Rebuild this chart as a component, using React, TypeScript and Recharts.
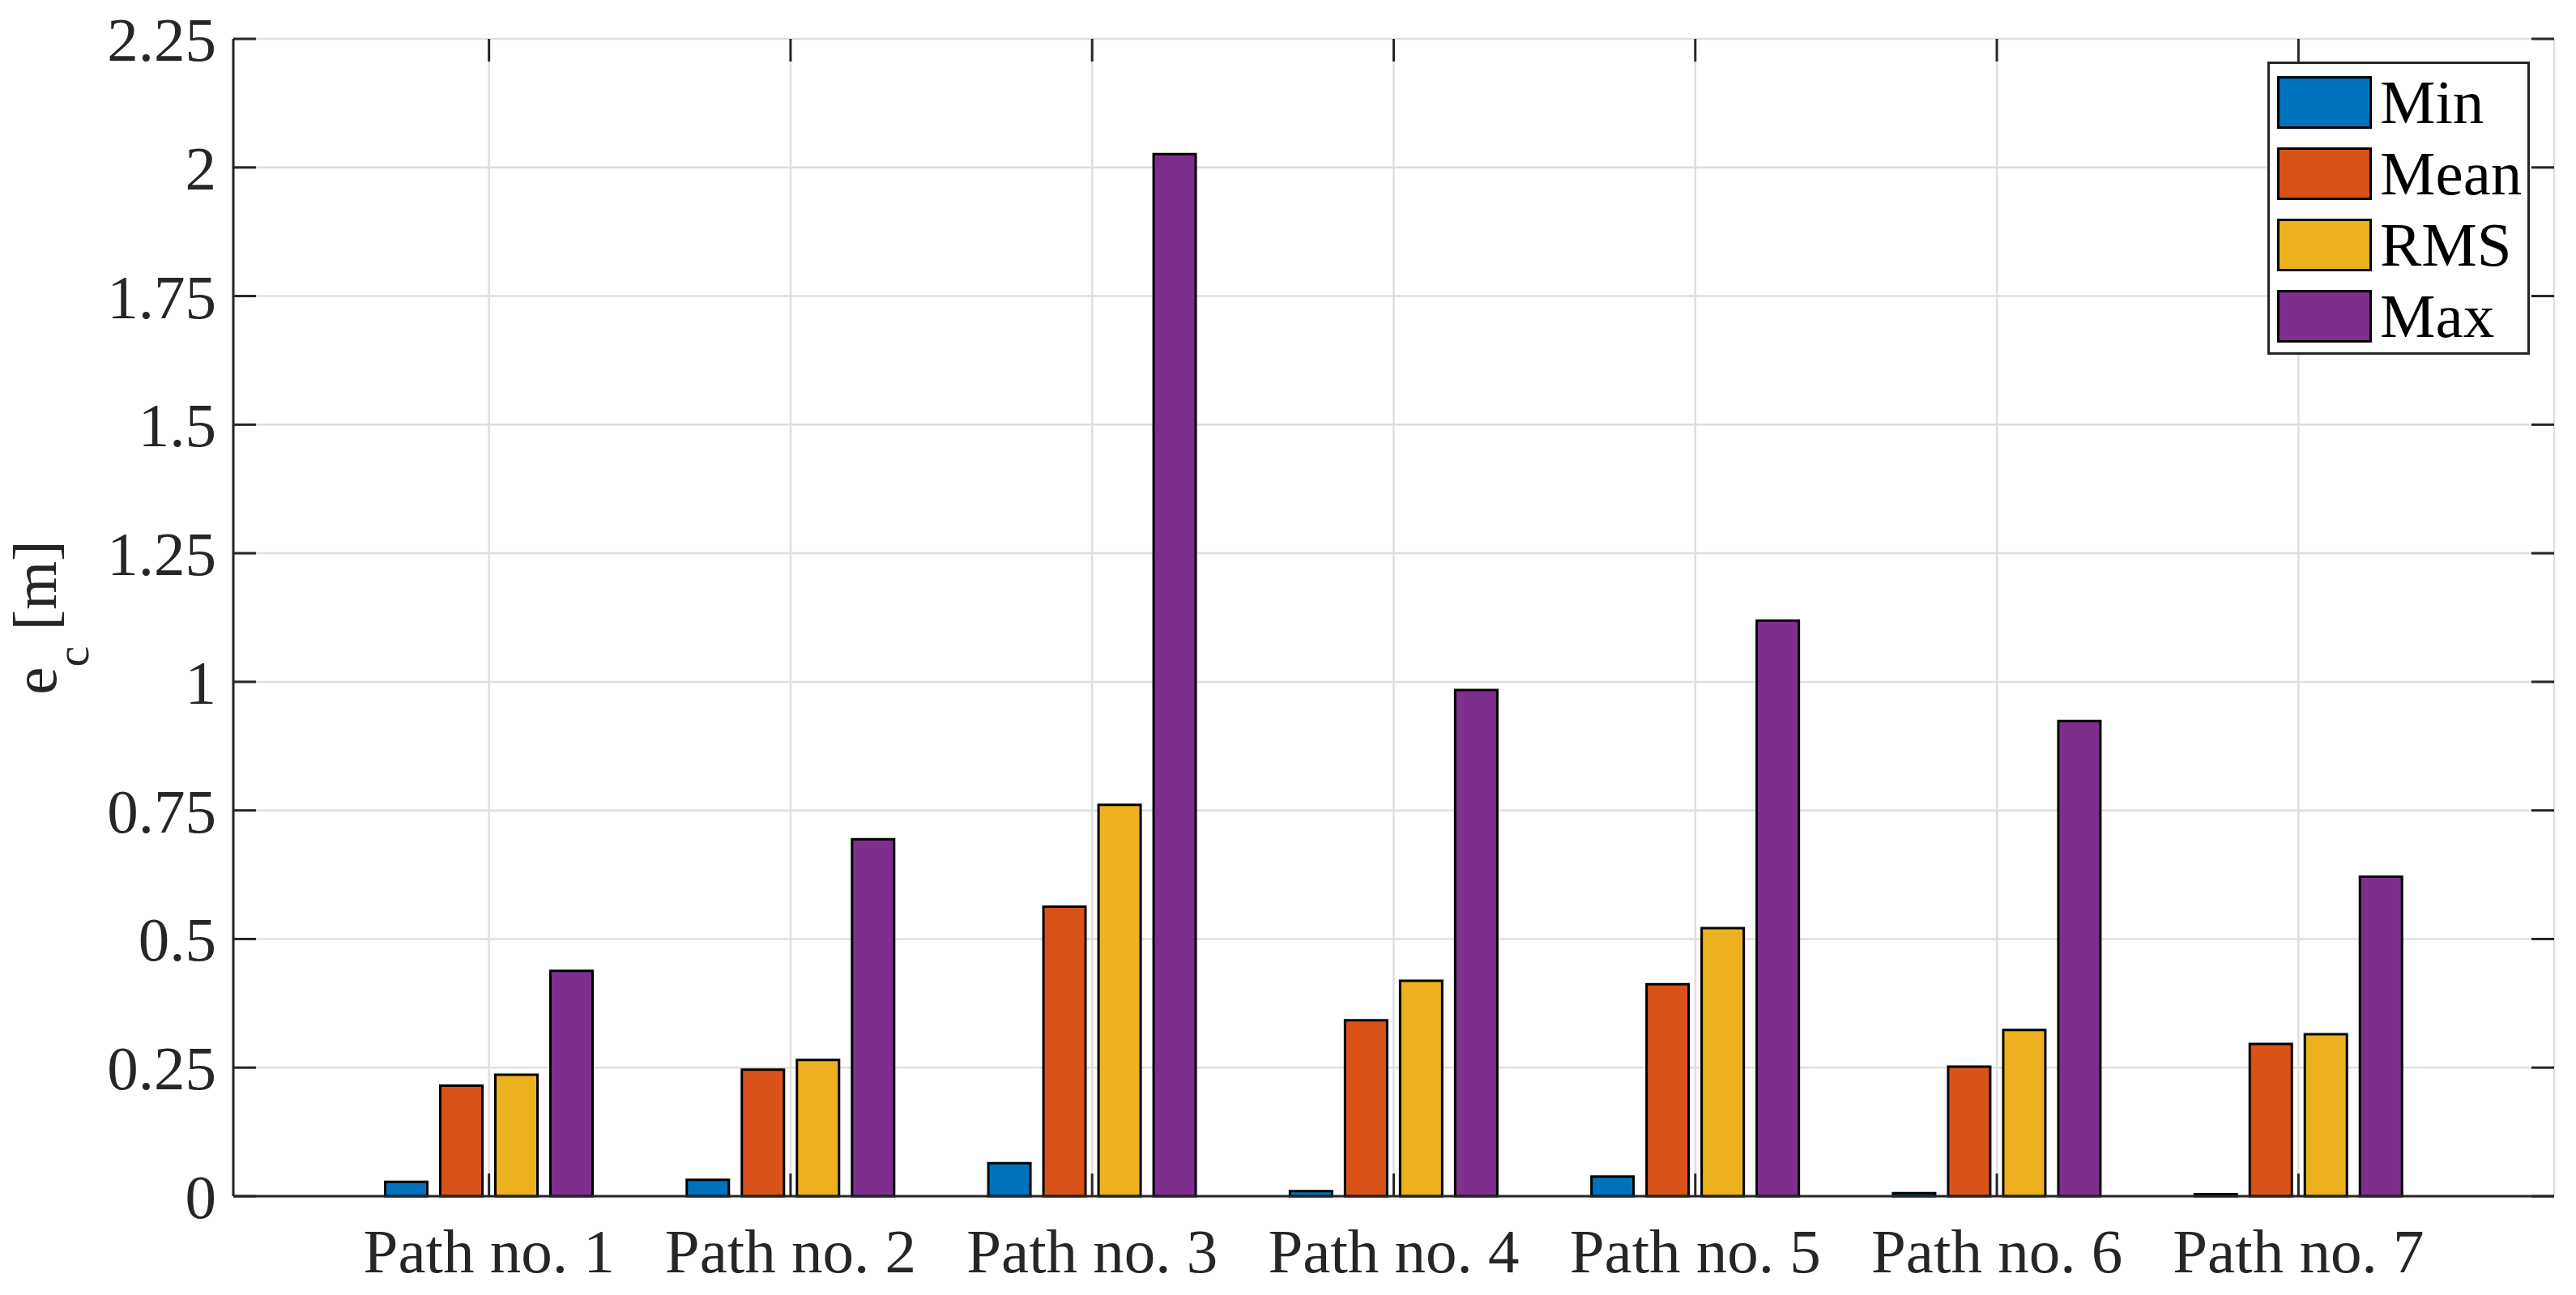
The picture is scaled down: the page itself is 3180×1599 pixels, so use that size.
import React from 'react';
import { BarChart, Bar, XAxis, YAxis, CartesianGrid, Legend } from 'recharts';

// Cross-track error per path: min / mean / RMS / max, in metres.
const PATHS = ['Path no. 1', 'Path no. 2', 'Path no. 3', 'Path no. 4', 'Path no. 5', 'Path no. 6', 'Path no. 7'];
const MIN = [0.028, 0.032, 0.064, 0.01, 0.038, 0.006, 0.004];
const MEAN = [0.215, 0.246, 0.563, 0.342, 0.412, 0.252, 0.296];
const RMS = [0.236, 0.265, 0.761, 0.419, 0.521, 0.323, 0.315];
const MAX = [0.438, 0.694, 2.026, 0.984, 1.119, 0.924, 0.621];
const Y_TICKS = [0, 0.25, 0.5, 0.75, 1, 1.25, 1.5, 1.75, 2, 2.25];

const SERIES = [
  { key: 'min', name: 'Min', color: '#0072BD' },
  { key: 'mean', name: 'Mean', color: '#D95319' },
  { key: 'rms', name: 'RMS', color: '#EDB120' },
  { key: 'max', name: 'Max', color: '#7E2F8E' },
];

const W = 3180;
const H = 1599;
// MATLAB-style boxed axes; ticks point inwards on all four sides.
const PLOT = { left: 288, top: 48, right: 3153, bottom: 1477 };
const PAD = { left: 129.5, right: 129.5 };
const FONT = '"Liberation Serif", "Times New Roman", serif';
const FS = 77;
const AXIS = '#262626';
const TICK_LEN = 28;

const rows = PATHS.map((path, i) => ({ path, min: MIN[i], mean: MEAN[i], rms: RMS[i], max: MAX[i] }));

function PathTick({ x, y, payload }: any) {
  return (
    <g>
      <line x1={x} x2={x} y1={PLOT.bottom} y2={PLOT.bottom - TICK_LEN} stroke={AXIS} strokeWidth={3} />
      <line x1={x} x2={x} y1={PLOT.top} y2={PLOT.top + TICK_LEN} stroke={AXIS} strokeWidth={3} />
      <text x={x} y={y + 94} textAnchor="middle" fill={AXIS} fontFamily={FONT} fontSize={FS}>
        {payload.value}
      </text>
    </g>
  );
}

function ValueTick({ x, y, payload }: any) {
  return (
    <g>
      <line x1={PLOT.left} x2={PLOT.left + TICK_LEN} y1={y} y2={y} stroke={AXIS} strokeWidth={3} />
      <line x1={PLOT.right} x2={PLOT.right - TICK_LEN} y1={y} y2={y} stroke={AXIS} strokeWidth={3} />
      <text x={x} y={y + 27} textAnchor="end" fill={AXIS} fontFamily={FONT} fontSize={FS}>
        {payload.value}
      </text>
    </g>
  );
}

function AxisTitle({ viewBox }: any) {
  const vb = viewBox || { x: 0, y: PLOT.top, width: PLOT.left, height: PLOT.bottom - PLOT.top };
  const cx = vb.x + 69;
  const cy = vb.y + vb.height / 2;
  return (
    <text
      x={cx}
      y={cy}
      transform={`rotate(-90, ${cx}, ${cy})`}
      textAnchor="middle"
      fill={AXIS}
      fontFamily={FONT}
      fontSize={FS}
    >
      e
      <tspan dy={40} fontSize={58}>c</tspan>
      <tspan dy={-40}> [m]</tspan>
    </text>
  );
}

function LegendBox({ payload }: any) {
  const items = SERIES.map((s) => (payload || []).find((p: any) => p.dataKey === s.key) || { value: s.name, color: s.color });
  return (
    <div
      style={{
        boxSizing: 'border-box',
        width: 324,
        height: 362,
        border: `3px solid ${AXIS}`,
        background: '#fff',
        padding: '15px 0 0 9px',
        display: 'flex',
        flexDirection: 'column',
        gap: 23,
      }}
    >
      {items.map((p: any) => (
        <div key={p.value} style={{ display: 'flex', alignItems: 'center', height: 65 }}>
          <div
            style={{
              width: 117,
              height: 65,
              boxSizing: 'border-box',
              border: '3px solid #000',
              background: p.color,
            }}
          />
          <span style={{ marginLeft: 10, fontSize: FS, fontFamily: FONT, lineHeight: '65px', color: '#000' }}>
            {p.value}
          </span>
        </div>
      ))}
    </div>
  );
}

export default function App() {
  return (
    <div style={{ position: 'absolute', left: 0, top: 0, width: W, height: H, background: '#fff' }}>
      <BarChart
        width={W}
        height={H}
        data={rows}
        margin={{ top: PLOT.top, right: W - PLOT.right, bottom: 0, left: 0 }}
        barGap={16}
      >
        <CartesianGrid stroke="#dfdfdf" strokeWidth={2.5} />
        <XAxis
          dataKey="path"
          height={H - PLOT.bottom}
          padding={PAD}
          tickSize={0}
          tickMargin={0}
          tickLine={false}
          axisLine={{ stroke: AXIS, strokeWidth: 3 }}
          tick={<PathTick />}
          interval={0}
        />
        <XAxis
          xAxisId="top"
          orientation="top"
          dataKey="path"
          height={0}
          padding={PAD}
          tick={false}
          tickLine={false}
          axisLine={{ stroke: AXIS, strokeWidth: 3 }}
        />
        <YAxis
          width={PLOT.left}
          type="number"
          domain={[0, 2.25]}
          ticks={Y_TICKS}
          interval={0}
          tickSize={0}
          tickMargin={21}
          tickLine={false}
          axisLine={{ stroke: AXIS, strokeWidth: 3 }}
          tick={<ValueTick />}
          label={<AxisTitle />}
        />
        <YAxis
          yAxisId="right"
          orientation="right"
          width={0}
          type="number"
          domain={[0, 2.25]}
          tick={false}
          tickLine={false}
          axisLine={{ stroke: AXIS, strokeWidth: 3 }}
        />
        {SERIES.map((s) => (
          <Bar
            key={s.key}
            dataKey={s.key}
            name={s.name}
            fill={s.color}
            stroke="#000"
            strokeWidth={3}
            barSize={52}
            isAnimationActive={false}
          />
        ))}
        <Legend
          layout="vertical"
          align="center"
          verticalAlign="middle"
          wrapperStyle={{ left: 2799, top: 76, width: 324, height: 362 }}
          content={<LegendBox />}
        />
      </BarChart>
    </div>
  );
}
